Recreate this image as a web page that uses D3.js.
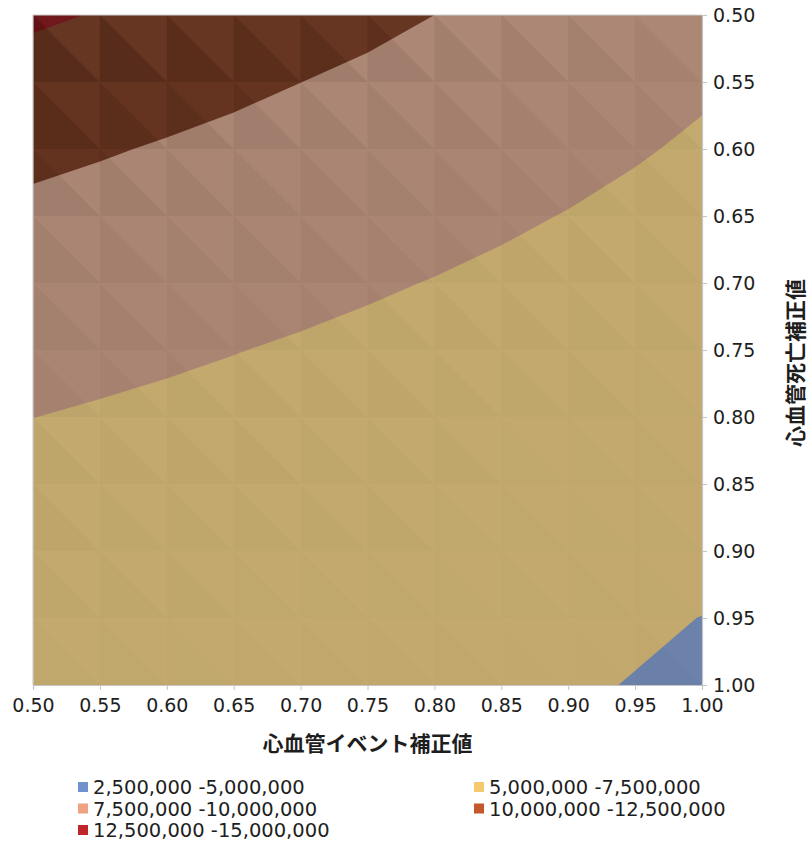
<!DOCTYPE html>
<html>
<head>
<meta charset="utf-8">
<script src="https://cdn.jsdelivr.net/npm/d3@7"></script>
<style>
  html, body { margin: 0; padding: 0; background: #fff; }
  svg { display: block; }
  .tick text { font-family: "DejaVu Sans", Verdana, sans-serif; font-size: 19px; fill: #1e1e1e; }
  .axis-title { font-family: "Noto Sans CJK JP", sans-serif; font-weight: 700; font-size: 21px; fill: #1e1e1e; }
  .legend text { font-family: "DejaVu Sans", Verdana, sans-serif; font-size: 19.5px; fill: #1e1e1e; }
</style>
</head>
<body>
<svg id="chart" width="808" height="845"></svg>
<script>
// Cardiovascular-event adjustment (x) and cardiovascular-death adjustment (y)
const eventFactors = [0.50, 0.55, 0.60, 0.65, 0.70, 0.75, 0.80, 0.85, 0.90, 0.95, 1.00];
const deathFactors = [0.50, 0.55, 0.60, 0.65, 0.70, 0.75, 0.80, 0.85, 0.90, 0.95, 1.00];

// Cost per grid point, in millions; one row per death factor, one column per event factor
const costMillions = [
  [12.85, 12.38, 11.90, 11.43, 10.95, 10.48, 10.00, 9.53, 9.05, 8.58, 8.10],
  [11.56, 11.17, 10.78, 10.40, 10.01, 9.63, 9.24, 8.86, 8.47, 8.09, 7.70],
  [10.48, 10.16, 9.84, 9.52, 9.21, 8.89, 8.57, 8.25, 7.94, 7.62, 7.30],
  [9.56, 9.30, 9.04, 8.77, 8.51, 8.24, 7.98, 7.71, 7.45, 7.18, 6.92],
  [8.78, 8.56, 8.34, 8.11, 7.89, 7.67, 7.45, 7.23, 7.00, 6.78, 6.56],
  [8.10, 7.91, 7.73, 7.54, 7.35, 7.16, 6.97, 6.78, 6.60, 6.41, 6.22],
  [7.51, 7.35, 7.19, 7.03, 6.87, 6.71, 6.54, 6.38, 6.22, 6.06, 5.90],
  [6.99, 6.85, 6.71, 6.57, 6.43, 6.29, 6.15, 6.01, 5.87, 5.73, 5.59],
  [6.52, 6.40, 6.27, 6.15, 6.03, 5.91, 5.78, 5.66, 5.54, 5.41, 5.29],
  [6.11, 5.99, 5.88, 5.77, 5.66, 5.54, 5.43, 5.32, 5.21, 5.11, 4.99],
  [5.73, 5.65, 5.57, 5.49, 5.41, 5.33, 5.25, 5.17, 5.09, 4.97, 4.84]
];

// Band limits
const bandEdges = [2500000, 5000000, 7500000, 10000000, 12500000, 15000000];

// Styles: shaded surface colours and legend swatch colours per band
const surfaceColors = ["#6c82ab", "#c3a96d", "#ab8573", "#63321e", "#6e1417"];
const swatchColors  = ["#7092cc", "#f5c96e", "#eea27f", "#c4572b", "#bf262a"];

const tickValues = [0.50, 0.55, 0.60, 0.65, 0.70, 0.75, 0.80, 0.85, 0.90, 0.95, 1.00];

const svg = d3.select("#chart");
const plot = { left: 33, top: 15, right: 702, bottom: 685 };

const x = d3.scaleLinear().domain([0.5, 1.0]).range([plot.left, plot.right]);
const y = d3.scaleLinear().domain([0.5, 1.0]).range([plot.top, plot.bottom]);

const nx = eventFactors.length, ny = deathFactors.length;
const values = [];
for (let j = 0; j < ny; j++) for (let i = 0; i < nx; i++) values.push(costMillions[j][i] * 1e6);

// grid coordinate (value i sits at i + 0.5) -> pixel
const gx = d3.scaleLinear().domain([0.5, nx - 0.5]).range([x(eventFactors[0]), x(eventFactors[nx - 1])]);
const gy = d3.scaleLinear().domain([0.5, ny - 0.5]).range([y(deathFactors[0]), y(deathFactors[ny - 1])]);
const path = d3.geoPath(d3.geoTransform({
  point(px, py) { this.stream.point(gx(px), gy(py)); }
}));

svg.append("defs").append("clipPath").attr("id", "plot-clip")
  .append("rect")
  .attr("x", plot.left).attr("y", plot.top)
  .attr("width", plot.right - plot.left).attr("height", plot.bottom - plot.top);

const surface = svg.append("g").attr("clip-path", "url(#plot-clip)");

const contours = d3.contours().size([nx, ny]).smooth(true)
  .thresholds(bandEdges.slice(0, -1))(values);

surface.selectAll("path.band")
  .data(contours)
  .join("path")
  .attr("class", "band")
  .attr("d", path)
  .attr("fill", (d, k) => surfaceColors[k]);

// Facet shading: each grid cell is split along its TL-BR diagonal and the
// lower-left facet is darkened according to the local steepness of the surface.
const facets = [];
for (let j = 0; j < ny - 1; j++) {
  for (let i = 0; i < nx - 1; i++) {
    const tl = costMillions[j][i], bl = costMillions[j + 1][i], br = costMillions[j + 1][i + 1], tr = costMillions[j][i + 1];
    const steep = Math.hypot(tl - bl, bl - br) / 1.4;
    facets.push({
      lower: [[eventFactors[i], deathFactors[j]], [eventFactors[i], deathFactors[j + 1]], [eventFactors[i + 1], deathFactors[j + 1]]],
      upper: [[eventFactors[i], deathFactors[j]], [eventFactors[i + 1], deathFactors[j]], [eventFactors[i + 1], deathFactors[j + 1]]],
      dark: Math.min(0.13, 0.004 + 0.12 * steep * steep),
      light: Math.min(0.035, 0.022 * Math.pow(Math.abs(tl - tr) / 0.5, 2))
    });
  }
}
const tri = d3.line().x(p => x(p[0])).y(p => y(p[1]));
surface.selectAll("path.facet-up")
  .data(facets)
  .join("path")
  .attr("class", "facet-up")
  .attr("d", d => tri(d.upper) + "Z")
  .attr("fill", "#fff")
  .attr("fill-opacity", d => d.light);
surface.selectAll("path.facet-dn")
  .data(facets)
  .join("path")
  .attr("class", "facet-dn")
  .attr("d", d => tri(d.lower) + "Z")
  .attr("fill", "#000")
  .attr("fill-opacity", d => d.dark);

// Plot frame
svg.append("path")
  .attr("d", `M${plot.left},${plot.bottom}V${plot.top}H${plot.right}`)
  .attr("fill", "none").attr("stroke", "#cfcfcf").attr("stroke-width", 1.2);

// Axes
const fmtTick = d3.format(".2f");
const xAxis = svg.append("g")
  .attr("transform", `translate(0,${plot.bottom})`)
  .call(d3.axisBottom(x).tickValues(tickValues).tickFormat(fmtTick).tickSize(5).tickPadding(12));
const yAxis = svg.append("g")
  .attr("transform", `translate(${plot.right},0)`)
  .call(d3.axisRight(y).tickValues(tickValues).tickFormat(fmtTick).tickSize(5).tickPadding(6));
[xAxis, yAxis].forEach(g => {
  g.select(".domain").attr("stroke", "#c4c4c4").attr("stroke-width", 1.2);
  g.selectAll(".tick line").attr("stroke", "#c4c4c4");
});
xAxis.selectAll(".tick text").attr("dy", "0.5em");

// Axis titles
svg.append("text").attr("class", "axis-title")
  .attr("x", (plot.left + plot.right) / 2).attr("y", 751)
  .attr("text-anchor", "middle")
  .text("心血管イベント補正値");
svg.append("text").attr("class", "axis-title")
  .attr("transform", `translate(803,363) rotate(-90)`)
  .attr("text-anchor", "middle")
  .text("心血管死亡補正値");

// Legend: two columns, filled row by row
const fmtNum = d3.format(",");
const legendItems = bandEdges.slice(0, -1).map((lo, k) => ({
  label: `${fmtNum(lo)} -${fmtNum(bandEdges[k + 1])}`,
  color: swatchColors[k]
}));
const colX = [78, 474], rowY0 = 787, rowStep = 21.5;
const legend = svg.append("g").attr("class", "legend");
const item = legend.selectAll("g")
  .data(legendItems)
  .join("g")
  .attr("transform", (d, k) => `translate(${colX[k % 2]},${rowY0 + Math.floor(k / 2) * rowStep})`);
item.append("rect").attr("x", 0).attr("y", -5).attr("width", 10).attr("height", 10).attr("fill", d => d.color);
item.append("text").attr("x", 15).attr("y", 0).attr("dy", "0.36em").text(d => d.label);
</script>
</body>
</html>
